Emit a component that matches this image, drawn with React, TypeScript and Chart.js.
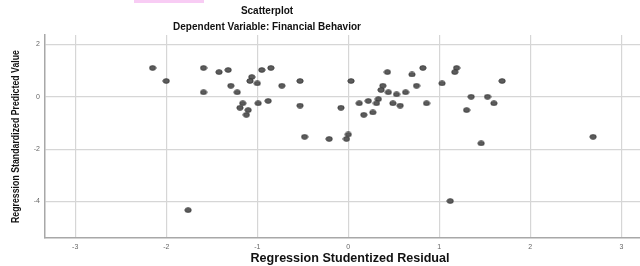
import React, { useEffect, useRef } from "react";
import { Chart, registerables } from "chart.js";

Chart.register(...registerables);

const residuals = [
  -2.15, -2.0, -1.59, -1.59, -1.42, -1.32, -1.29, -1.22, -1.06, -1.08, -1.0, -0.95, -0.85, -0.73, -0.53,
  -1.16, -1.19, -1.1, -1.12, -0.99, -0.88, -0.53,
  0.03, 0.43, 0.7, 0.82, 1.03, 0.75, 0.38, 0.36, 0.44, 0.53, 0.63, 0.33, 0.22, 0.12, 0.31, 0.49, 0.57, 0.86,
  -0.08, 0.27, 0.17, -0.48, -0.21, 0.0, -0.02,
  1.19, 1.17, 1.69, 1.35, 1.53, 1.6, 1.3, 1.46, 2.69, -1.76, 1.12,
];
const predicted = [
  1.1, 0.6, 1.1, 0.17, 0.94, 1.02, 0.42, 0.17, 0.75, 0.6, 0.51, 1.02, 1.1, 0.42, 0.6,
  -0.25, -0.42, -0.51, -0.69, -0.25, -0.16, -0.34,
  0.6, 0.94, 0.85, 1.1, 0.51, 0.42, 0.42, 0.26, 0.17, 0.09, 0.17, -0.09, -0.16, -0.25, -0.25, -0.25, -0.34, -0.25,
  -0.42, -0.6, -0.69, -1.53, -1.61, -1.44, -1.61,
  1.1, 0.94, 0.6, 0.0, 0.0, -0.25, -0.51, -1.78, -1.53, -4.33, -3.98,
];
const xTicks = [-3, -2, -1, 0, 1, 2, 3];
const yTicks = [-4, -2, 0, 2];

const title1 = "Scatterplot";
const title2 = "Dependent Variable: Financial Behavior";
const xLabel = "Regression Studentized Residual";
const yLabel = "Regression Standardized Predicted Value";

function makeDot(): HTMLCanvasElement {
  const c = document.createElement("canvas");
  c.width = 8;
  c.height = 6;
  const g = c.getContext("2d")!;
  g.beginPath();
  g.ellipse(4, 3, 3.2, 2.35, 0, 0, Math.PI * 2);
  g.fillStyle = "#5c5c5c";
  g.fill();
  g.lineWidth = 0.8;
  g.strokeStyle = "#353535";
  g.stroke();
  return c;
}

const textPlugin = {
  id: "spssText",
  afterDraw(chart: any) {
    const ctx = chart.ctx as CanvasRenderingContext2D;
    ctx.save();
    ctx.fillStyle = "#f8ccf4";
    ctx.fillRect(134, 0, 70, 3);
    ctx.fillStyle = "#111";
    ctx.textAlign = "center";
    ctx.textBaseline = "middle";
    ctx.font = "bold 10px 'Liberation Sans', Arial, sans-serif";
    ctx.fillText(title1, 267, 11);
    ctx.fillText(title2, 267, 27);
    ctx.font = "bold 12px 'Liberation Sans', Arial, sans-serif";
    const wx = ctx.measureText(xLabel).width;
    ctx.save();
    ctx.translate(350, 259);
    ctx.scale(199 / wx, 1);
    ctx.fillText(xLabel, 0, 0);
    ctx.restore();
    ctx.font = "bold 11px 'Liberation Sans', Arial, sans-serif";
    const w = ctx.measureText(yLabel).width;
    ctx.translate(16, 136.5);
    ctx.rotate(-Math.PI / 2);
    ctx.scale(173 / w, 1);
    ctx.fillText(yLabel, 0, 0);
    ctx.restore();
  },
};

export default function App() {
  const ref = useRef<HTMLCanvasElement | null>(null);
  useEffect(() => {
    document.body.style.margin = "0";
    const dot = makeDot();
    const data = residuals.map((x, i) => ({ x, y: predicted[i] }));
    const chart = new Chart(ref.current!, {
      type: "scatter",
      data: {
        datasets: [
          {
            data,
            pointStyle: dot as any,
            pointRadius: 3,
            pointHoverRadius: 3,
          },
        ],
      },
      options: {
        animation: false,
        responsive: false,
        events: [],
        layout: { autoPadding: false, padding: { top: 35, right: 0, left: 0, bottom: 0 } },
        plugins: { legend: { display: false }, tooltip: { enabled: false }, title: { display: false } },
        scales: {
          x: {
            type: "linear",
            min: -3.332,
            max: 3.205,
            afterBuildTicks: (s: any) => {
              s.ticks = xTicks.map((v) => ({ value: v }));
            },
            afterFit: (s: any) => {
              s.height = 28.3;
              s.paddingLeft = 0;
              s.paddingRight = 0;
            },
            grid: { color: "#d6d6d6", lineWidth: 1.2, drawTicks: false },
            border: { color: "#a8a8a8", width: 1.5 },
            ticks: {
              color: "#666",
              font: { size: 7, family: "'Liberation Sans', Arial, sans-serif" },
              padding: 5,
              maxRotation: 0,
              callback: (v: any) => String(v),
            },
          },
          y: {
            type: "linear",
            min: -5.38,
            max: 2.355,
            afterBuildTicks: (s: any) => {
              s.ticks = yTicks.map((v) => ({ value: v }));
            },
            afterFit: (s: any) => {
              s.width = 45;
              s.paddingTop = 0;
              s.paddingBottom = 0;
            },
            grid: { color: "#d6d6d6", lineWidth: 1.2, drawTicks: false },
            border: { color: "#a8a8a8", width: 1.5 },
            ticks: {
              color: "#666",
              font: { size: 7, family: "'Liberation Sans', Arial, sans-serif" },
              padding: 5,
              callback: (v: any) => String(v),
            },
          },
        },
      },
      plugins: [textPlugin],
    });
    return () => chart.destroy();
  }, []);
  return (
    <canvas
      ref={ref}
      width={640}
      height={266}
      style={{ display: "block", width: 640, height: 266 }}
    />
  );
}
